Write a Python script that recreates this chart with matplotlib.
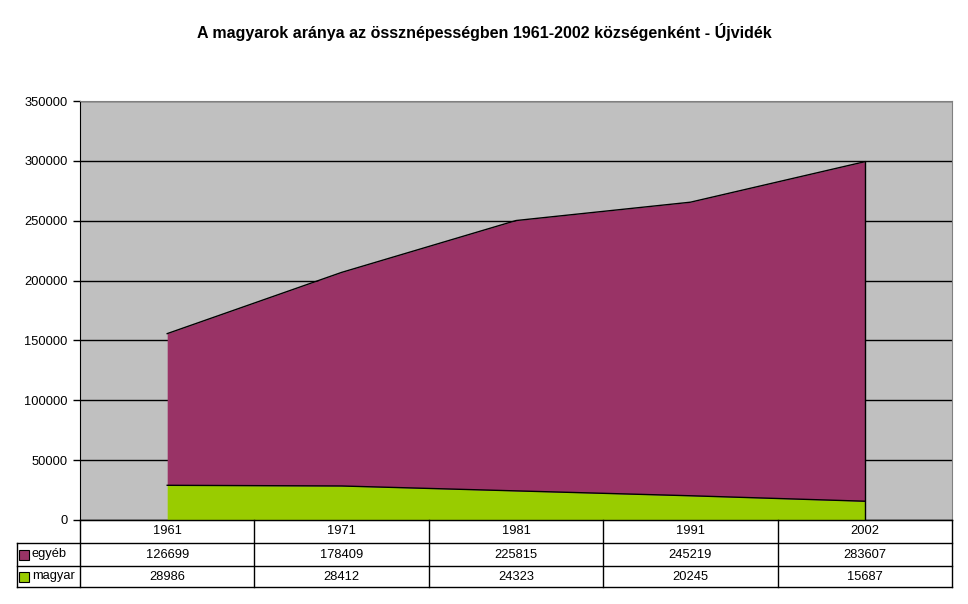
import matplotlib.pyplot as plt
from matplotlib.lines import Line2D
from matplotlib.patches import Rectangle

plt.rcParams['font.family'] = ['Liberation Sans', 'DejaVu Sans']

years = ['1961', '1971', '1981', '1991', '2002']
egyeb = [126699, 178409, 225815, 245219, 283607]
magyar = [28986, 28412, 24323, 20245, 15687]
series_names = ['egyéb', 'magyar']

W, H = 968, 604
fig = plt.figure(figsize=(W / 100, H / 100), dpi=100)

# plot area in pixel coordinates
left, right, top, bottom = 80, 952, 101, 520
ax = fig.add_axes([left / W, 1 - bottom / H, (right - left) / W, (bottom - top) / H])
ax.set_facecolor('#C0C0C0')

x = list(range(len(years)))
total = [m + e for m, e in zip(magyar, egyeb)]
ax.fill_between(x, 0, magyar, color='#99CC00', linewidth=0, zorder=3)
ax.fill_between(x, magyar, total, color='#993366', linewidth=0, zorder=3)
ax.plot(x, magyar, color='black', lw=1, zorder=4)
ax.plot(x, total, color='black', lw=1, zorder=4)
ax.plot([x[-1], x[-1]], [0, total[-1]], color='black', lw=1, zorder=4)

ax.set_xlim(-0.5, len(years) - 0.5)
ax.set_ylim(0, 350000)
ax.set_yticks(range(0, 350001, 50000))
ax.set_yticklabels([str(v) for v in range(0, 350001, 50000)], fontsize=9.3)
ax.yaxis.grid(True, color='black', lw=1)
ax.set_axisbelow(True)
ax.set_xticks([])
ax.tick_params(axis='y', length=5, width=1, pad=4, colors='black')
for s in ['top', 'right']:
    ax.spines[s].set_color('#808080')
ax.spines['left'].set_color('black')
ax.spines['bottom'].set_color('black')

fig.text(484 / W, 1 - 32 / H, 'A magyarok aránya az össznépességben 1961-2002 községenként - Újvidék',
         ha='center', va='center', fontsize=11.5, fontweight='bold')

# data table below the axis
rows = [520, 543, 566, 587]
tbl_left = 17
col_w = (right - left) / len(years)


def px_line(x0, y0, x1, y1):
    fig.add_artist(Line2D([x0 / W, x1 / W], [1 - y0 / H, 1 - y1 / H], color='black', lw=1,
                          transform=fig.transFigure))


for y in rows:
    px_line(tbl_left if y != rows[0] else left, y, right, y)
for i in range(len(years) + 1):
    px_line(left + i * col_w, rows[0], left + i * col_w, rows[-1])
px_line(tbl_left, rows[1], tbl_left, rows[-1])

for i, yr in enumerate(years):
    cx = left + (i + 0.5) * col_w
    fig.text(cx / W, 1 - (rows[0] + rows[1]) / 2 / H, yr, ha='center', va='center', fontsize=9.3)
    fig.text(cx / W, 1 - (rows[1] + rows[2]) / 2 / H, str(egyeb[i]), ha='center', va='center', fontsize=9.3)
    fig.text(cx / W, 1 - (rows[2] + rows[3]) / 2 / H, str(magyar[i]), ha='center', va='center', fontsize=9.3)

for name, color, (r0, r1) in [(series_names[0], '#993366', (rows[1], rows[2])),
                              (series_names[1], '#99CC00', (rows[2], rows[3]))]:
    cy = (r0 + r1) / 2
    fig.add_artist(Rectangle(((tbl_left + 2) / W, 1 - (cy + 5) / H), 10 / W, 10 / H,
                             facecolor=color, edgecolor='black', lw=0.8, transform=fig.transFigure))
    fig.text((tbl_left + 15) / W, 1 - cy / H, name, ha='left', va='center', fontsize=9.3)

fig.savefig('out.png', dpi=100)
